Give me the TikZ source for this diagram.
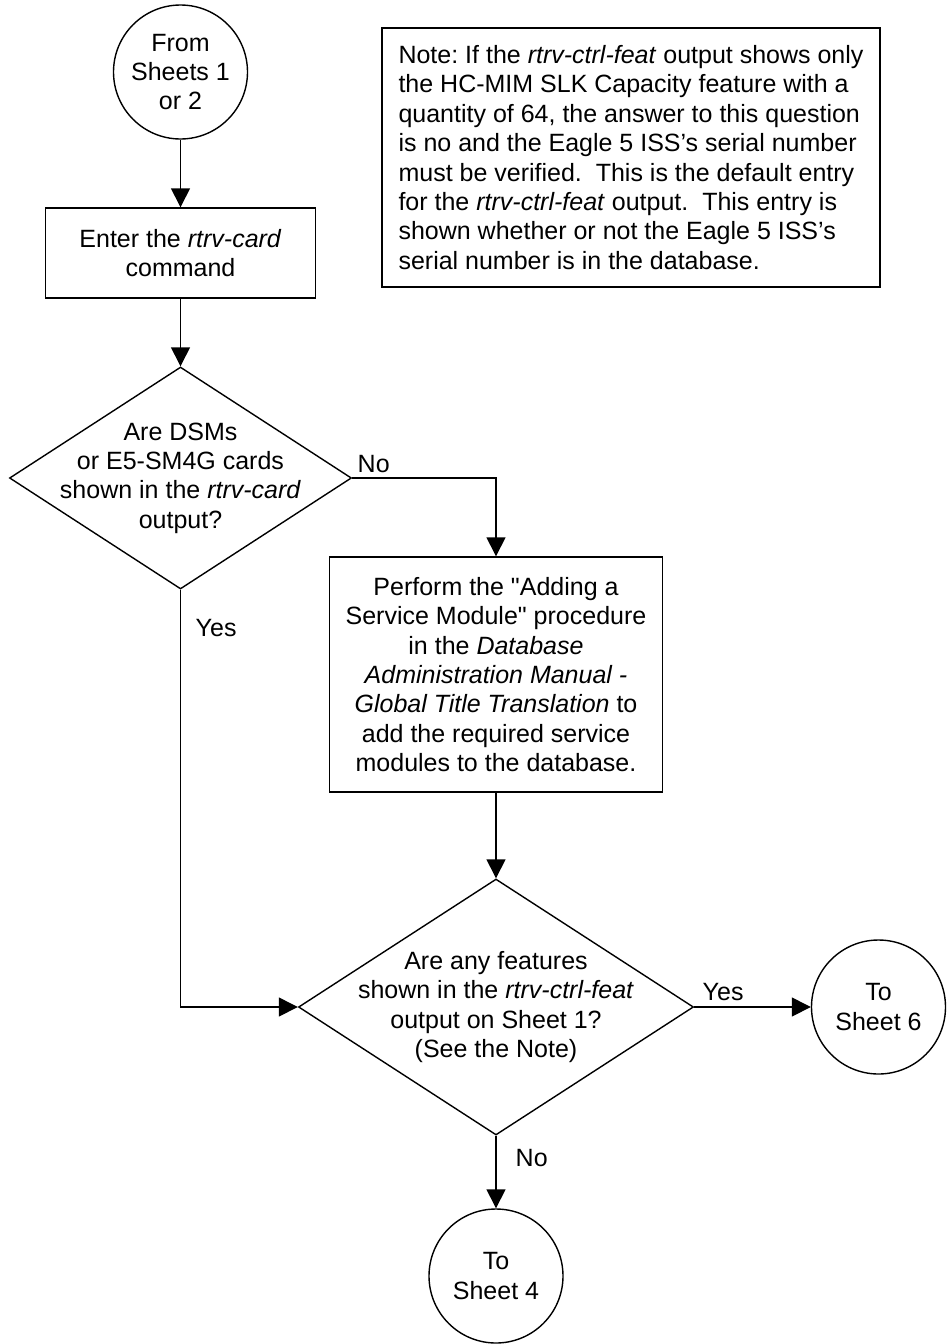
\documentclass[tikz,border=0pt]{standalone}
\usepackage{fontspec}
\setmainfont{Liberation Sans}
\usetikzlibrary{arrows.meta, positioning, shapes.geometric, calc}
\newcommand\chartfont{\fontsize{12.5}{14.7}\selectfont\frenchspacing}
\tikzset{
  every picture/.style={line width=0.7pt},
  every node/.style={font=\chartfont},
  box/.style={draw, rectangle, align=center, inner sep=0pt},
  term/.style={draw, circle, align=center, minimum size=67pt, inner sep=0pt},
  decision/.style={draw, diamond, inner sep=0pt},
  txt/.style={align=center, inner sep=0pt},
  lbl/.style={anchor=base west, inner sep=0pt},
  arrow/.style={-{Triangle[length=9.5pt, width=9.5pt]}},
}

\begin{document}
\begin{tikzpicture}[x=0.5pt, y=-0.5pt]
  \useasboundingbox (0,0) rectangle (949,1344);
  \node[term] (from) at (180.5,72) {From\\Sheets 1\\or 2};
  \node[box, minimum width=135pt, minimum height=45pt] (enter) at (180.5,253) {Enter the \textit{rtrv-card}\\command};
  \node[box, align=left, minimum width=249pt, minimum height=129.5pt] (note) at (631,157.5) {Note: If the \textit{rtrv-ctrl-feat} output shows only\\the HC-MIM SLK Capacity feature with a\\quantity of 64, the answer to this question\\is no and the Eagle 5 ISS's serial number\\must be verified.\ \ This is the default entry\\for the \textit{rtrv-ctrl-feat} output.\ \ This entry is\\shown whether or not the Eagle 5 ISS's\\serial number is in the database.};
  \node[decision, minimum width=171pt, minimum height=111pt] (cards) at (180.5,478) {};
  \node[txt] (cardstxt) at (cards) {Are DSMs\\or E5-SM4G cards\\shown in the \textit{rtrv-card}\\output?};
  \node[box, minimum width=166.5pt, minimum height=117.5pt] (addsm) at (496,674.5) {Perform the \textquotedbl Adding a\\Service Module\textquotedbl{} procedure\\in the \textit{Database}\\\textit{Administration Manual -}\\\textit{Global Title Translation} to\\add the required service\\modules to the database.};
  \node[decision, minimum width=197.5pt, minimum height=128pt] (feat) at (496,1007) {};
  \node[txt] (feattxt) at (feat) {Are any features\\shown in the \textit{rtrv-ctrl-feat}\\output on Sheet 1?\\(See the Note)};
  \node[term] (sheet6) at (878.5,1007) {To\\Sheet 6};
  \node[term] (sheet4) at (496,1276) {To\\Sheet 4};

  \draw[arrow] (from) -- (enter);
  \draw[arrow] (enter) -- (cards);
  \draw[arrow] (cards.east) -| (addsm.north);
  \draw[arrow] (cards.south) |- (feat.west);
  \draw[arrow] (addsm) -- (feat);
  \draw[arrow] (feat.east) -- (sheet6);
  \draw[arrow] (feat.south) -- (sheet4);

  \node[lbl] (no1) at (357,472) {No};
  \node[lbl] (yes1) at (195,636) {Yes};
  \node[lbl] (yes2) at (702,1000) {Yes};
  \node[lbl] (no2) at (515,1166) {No};
\end{tikzpicture}
\end{document}
